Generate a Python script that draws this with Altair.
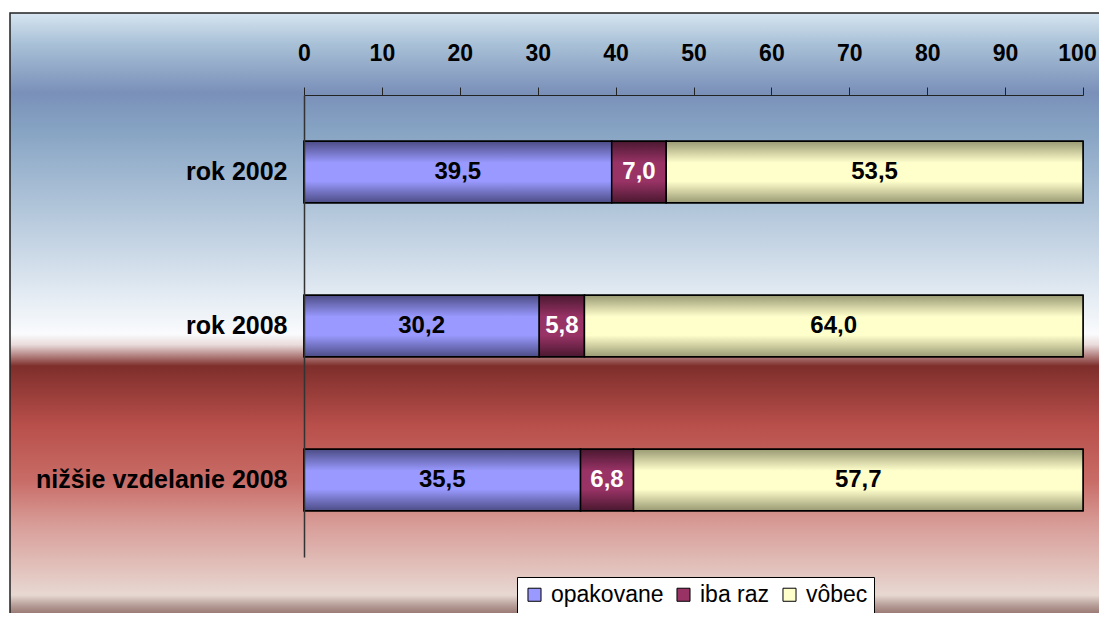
import altair as alt
import pandas as pd

categories = ["rok 2002", "rok 2008", "nižšie vzdelanie 2008"]
series = ["opakovane", "iba raz", "vôbec"]
opakovane = [39.5, 30.2, 35.5]
iba_raz = [7.0, 5.8, 6.8]
vobec = [53.5, 64.0, 57.7]
x_ticks = [0, 10, 20, 30, 40, 50, 60, 70, 80, 90, 100]
flat_colors = ["#9999ff", "#993366", "#ffffcc"]
edge_colors = ["#4c4c85", "#4a1830", "#9a9a74"]
mid_colors = ["#9999ff", "#993366", "#ffffcc"]
label_colors = ["black", "white", "black"]

rows = []
for i, c in enumerate(categories):
    for j, (s, vals) in enumerate(zip(series, [opakovane, iba_raz, vobec])):
        v = vals[i]
        rows.append({"cat": c, "series": s, "order": j, "value": v,
                     "label": f"{v:.1f}".replace(".", ","), "lc": label_colors[j]})
df = pd.DataFrame(rows)

W, H = 779, 462
PAD_L, PAD_T = 296, 87
TOTAL_W, TOTAL_H = 1091, 605

xscale = alt.Scale(domain=[0, 100], nice=False, zero=True)
yscale = alt.Scale(domain=categories, paddingInner=0.6, paddingOuter=0.3)

x_axis = alt.Axis(orient="top", values=x_ticks, tickSize=8, tickColor="#222",
                  domainColor="#222", domainWidth=1, tickWidth=1,
                  labelFont="Liberation Sans Narrow, Liberation Sans", labelFontWeight="bold",
                  labelFontSize=23, labelColor="black", labelPadding=22,
                  labelOffset={"condition": {"test": "datum.value == 100", "value": -6},
                               "value": 0},
                  labelFlush=False, labelOverlap=False, grid=False, title=None, zindex=1)
y_axis = alt.Axis(orient="left", ticks=False, domainColor="#333", domainWidth=1.5,
                  labelFont="Liberation Sans", labelFontWeight="bold", labelFontSize=25,
                  labelColor="black", labelPadding=17, grid=False, title=None, zindex=1,
                  labelLimit=400)

base = alt.Chart(df).transform_stack(
    stack="value", groupby=["cat"], as_=["x0", "x1"], sort=[alt.SortField("order")]
).transform_calculate(mid="(datum.x0 + datum.x1) / 2")

bg_gradient = alt.LinearGradient(
    gradient="linear", x1=0, y1=0, x2=0, y2=1,
    stops=[
        alt.GradientStop(offset=0.0, color="#d7e5f0"),
        alt.GradientStop(offset=0.05, color="#a9c1d7"),
        alt.GradientStop(offset=0.13, color="#7a90b9"),
        alt.GradientStop(offset=0.19, color="#86a3c3"),
        alt.GradientStop(offset=0.37, color="#c3d3e3"),
        alt.GradientStop(offset=0.467, color="#e6edf4"),
        alt.GradientStop(offset=0.523, color="#fafbfd"),
        alt.GradientStop(offset=0.54, color="#eadcdc"),
        alt.GradientStop(offset=0.575, color="#7e2e2b"),
        alt.GradientStop(offset=0.671, color="#b84f4b"),
        alt.GradientStop(offset=0.76, color="#c86b66"),
        alt.GradientStop(offset=0.832, color="#d89c97"),
        alt.GradientStop(offset=0.948, color="#e8d8d2"),
        alt.GradientStop(offset=0.964, color="#b8a09a"),
        alt.GradientStop(offset=1.0, color="#6b3a35"),
    ],
)

bg = alt.Chart(alt.Data(values=[{"frame": 1}])).mark_rect(
    fill=bg_gradient, stroke="#222", strokeWidth=1.5
).encode(
    x=alt.value(-294), x2=alt.value(803), y=alt.value(-82), y2=alt.value(532)
)

flat = base.mark_bar(stroke="black", strokeWidth=1.5).encode(
    x=alt.X("x0:Q", scale=xscale, axis=x_axis),
    x2="x1:Q",
    y=alt.Y("cat:N", scale=yscale, axis=y_axis, sort=categories),
    color=alt.Color("series:N", sort=series,
                    scale=alt.Scale(domain=series, range=flat_colors),
                    legend=alt.Legend(orient="none", legendX=213, legendY=482,
                                      direction="horizontal", title=None,
                                      fillColor="white", strokeColor="black",
                                      padding=6, symbolType="square", symbolSize=170,
                                      symbolStrokeColor="black", symbolStrokeWidth=1,
                                      labelFont="Liberation Sans", labelFontSize=23,
                                      labelColor="black", columnPadding=8, labelOffset=5,
                                      zindex=1)),
)

grad_layers = []
for j, s in enumerate(series):
    g = alt.LinearGradient(
        gradient="linear", x1=0, y1=0, x2=0, y2=1,
        stops=[
            alt.GradientStop(offset=0.0, color=edge_colors[j]),
            alt.GradientStop(offset=0.35, color=mid_colors[j]),
            alt.GradientStop(offset=0.65, color=mid_colors[j]),
            alt.GradientStop(offset=1.0, color=edge_colors[j]),
        ],
    )
    grad_layers.append(
        base.transform_filter(alt.datum.series == s).mark_bar(
            fill=g, stroke="black", strokeWidth=1.5
        ).encode(
            x=alt.X("x0:Q", scale=xscale),
            x2="x1:Q",
            y=alt.Y("cat:N", scale=yscale, sort=categories),
        )
    )

text = base.mark_text(font="Liberation Sans", fontWeight="bold", fontSize=24,
                      baseline="middle", align="center").encode(
    x=alt.X("mid:Q", scale=xscale),
    y=alt.Y("cat:N", scale=yscale, sort=categories),
    text="label:N",
    color=alt.Color("lc:N", scale=None),
)

chart = alt.layer(bg, flat, *grad_layers, text).properties(
    width=W, height=H,
    autosize=alt.AutoSizeParams(type="none"),
    padding={"left": PAD_L, "top": PAD_T, "right": TOTAL_W - PAD_L - W,
             "bottom": TOTAL_H - PAD_T - H},
).configure_view(stroke=None)

chart.save("out.html", embed_options={"renderer": "svg", "actions": False})
